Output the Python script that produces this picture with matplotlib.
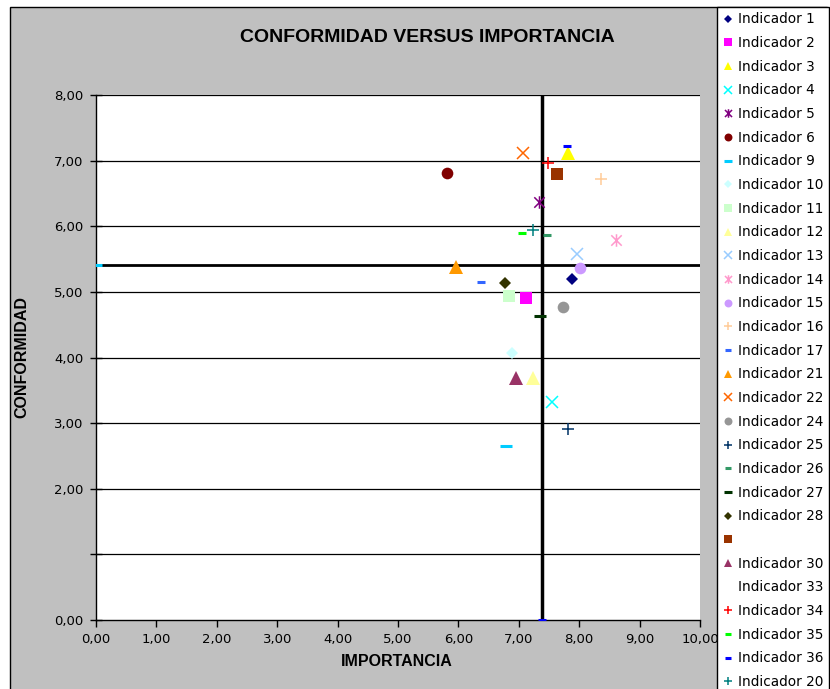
import matplotlib
matplotlib.use('Agg')
import matplotlib.pyplot as plt
from matplotlib.lines import Line2D
from matplotlib.patches import Rectangle
from matplotlib.path import Path

# Indicators: (importancia, conformidad)
labels = ['Indicador 1', 'Indicador 2', 'Indicador 3', 'Indicador 4',
          'Indicador 5', 'Indicador 6', 'Indicador 9', 'Indicador 10',
          'Indicador 11', 'Indicador 12', 'Indicador 13', 'Indicador 14',
          'Indicador 15', 'Indicador 16', 'Indicador 17', 'Indicador 21',
          'Indicador 22', 'Indicador 24', 'Indicador 25', 'Indicador 26',
          'Indicador 27', 'Indicador 28', '', 'Indicador 30',
          'Indicador 33', 'Indicador 34', 'Indicador 35', 'Indicador 36',
          'Indicador 20']
importancia = [7.88, 7.12, 7.81, 7.55, 7.33, 5.81, 6.79, 6.89,
               6.84, 7.24, 7.96, 8.61, 8.01, 8.36, 6.37, 5.96,
               7.07, 7.73, 7.81, 7.46, 7.35, 6.77, 7.63, 6.95,
               None, 7.48, 7.05, 7.80, 7.24]
conformidad = [5.20, 4.90, 7.12, 3.32, 6.37, 6.81, 2.65, 4.07,
               4.93, 3.69, 5.58, 5.79, 5.36, 6.72, 5.15, 5.38,
               7.12, 4.77, 2.91, 5.86, 4.63, 5.14, 6.80, 3.69,
               None, 6.96, 5.90, 7.22, 5.94]

# mean values drawn as the cross lines
mean_imp = 7.38
mean_conf = 5.41

xticks = list(range(0, 11))
xticklabels = ['0,00', '1,00', '2,00', '3,00', '4,00', '5,00',
               '6,00', '7,00', '8,00', '9,00', '10,00']
yticks = list(range(0, 9))
yticklabels = ['0,00', '', '2,00', '3,00', '4,00', '5,00',
               '6,00', '7,00', '8,00']

star = Path([(-1, -1), (1, 1), (-1, 1), (1, -1), (0, -1.2), (0, 1.2)],
            [Path.MOVETO, Path.LINETO, Path.MOVETO, Path.LINETO,
             Path.MOVETO, Path.LINETO])

# marker, colour, size, edge width
styles = [
    ('D', '#000080', 6.6, 0), ('s', '#FF00FF', 8.4, 0),
    ('^', '#FFFF00', 9.5, 0), ('x', '#00FFFF', 9.0, 1.1),
    (star, '#800080', 9.0, 1.1), ('o', '#800000', 8.4, 0),
    ('_', '#00CCFF', 9.0, 2.2), ('D', '#CCFFFF', 6.6, 0),
    ('s', '#CCFFCC', 8.4, 0), ('^', '#FFFF99', 9.5, 0),
    ('x', '#99CCFF', 9.0, 1.1), (star, '#FF99CC', 9.0, 1.1),
    ('o', '#CC99FF', 8.4, 0), ('+', '#FFCC99', 9.0, 1.1),
    ('_', '#3366FF', 6.0, 2.2), ('^', '#FF9900', 9.5, 0),
    ('x', '#FF6600', 9.0, 1.1), ('o', '#969696', 8.4, 0),
    ('+', '#003366', 9.0, 1.1), ('_', '#339966', 5.5, 2.2),
    ('_', '#003300', 9.0, 2.2), ('D', '#333300', 6.6, 0),
    ('s', '#993300', 8.4, 0), ('^', '#993366', 9.5, 0),
    ('None', 'none', 0, 0), ('+', '#FF0000', 9.0, 1.1),
    ('_', '#00FF00', 6.0, 2.2), ('_', '#0000FF', 6.0, 2.2),
    ('+', '#008080', 8.0, 1.1),
]

fs = 9.5
fig = plt.figure(figsize=(8.3, 6.89), dpi=100)
fig.patch.set_facecolor('white')
W, H = 830, 689

# grey chart area
fig.patches.append(Rectangle((10/W, -0.01), 817/W, 1.01 - 7/H,
                             transform=fig.transFigure, facecolor='#C0C0C0',
                             edgecolor='black', lw=1, zorder=-10))

ax = fig.add_axes([96/W, 69/H, 604/W, 525/H])
ax.set_facecolor('white')
ax.set_xlim(0, 10)
ax.set_ylim(0, 8)
for sp in ['top', 'right']:
    ax.spines[sp].set_visible(False)
for sp in ['left', 'bottom']:
    ax.spines[sp].set_color('black')
    ax.spines[sp].set_linewidth(1)
for yv in yticks[1:]:
    ax.axhline(yv, color='black', lw=0.9, zorder=1)

ax.axhline(mean_conf, color='black', lw=2.0, zorder=2)
ax.axvline(mean_imp, color='black', lw=2.5, zorder=2)
ax.plot([0], [mean_conf], marker='_', color='#00CCFF', ms=8, mew=2.2,
        ls='none', clip_on=True, zorder=3)
ax.plot([mean_imp], [0], marker='_', color='#0000FF', ms=6, mew=2.2,
        ls='none', clip_on=True, zorder=3)

handles = []
for i in range(len(labels)):
    m, c, s, ew = styles[i]
    filled = ew == 0
    if importancia[i] is not None:
        ax.plot([importancia[i]], [conformidad[i]], ls='none', marker=m,
                ms=s, color=c, mew=ew if not filled else 0, zorder=4)
    handles.append(Line2D([], [], ls='none', marker=m, color=c,
                          ms=s*0.68, mew=ew if not filled else 0))

ax.set_xticks(xticks)
ax.set_xticklabels(xticklabels)
ax.set_yticks(yticks)
ax.set_yticklabels(yticklabels)
ax.tick_params(axis='x', direction='out', length=5, width=1, pad=4,
               labelsize=fs)
ax.tick_params(axis='y', direction='inout', length=8, width=1, pad=5,
               labelsize=fs)

fig.text(427/W, 1 - 38/H, 'CONFORMIDAD VERSUS IMPORTANCIA',
         family='Liberation Sans', weight='bold', fontsize=14,
         ha='center', va='center')
fig.text(397/W, 1 - 662/H, 'IMPORTANCIA', family='Liberation Sans',
         weight='bold', fontsize=11.5, ha='center', va='center')
fig.text(22/W, 1 - 357/H, 'CONFORMIDAD', family='Liberation Sans',
         weight='bold', fontsize=11.5, ha='center', va='center', rotation=90)

leg = ax.legend(handles, labels, loc='upper left',
                bbox_to_anchor=(717/W, 1 - 7/H), bbox_transform=fig.transFigure,
                fontsize=9.8, frameon=True, fancybox=False, framealpha=1,
                edgecolor='black', facecolor='white', borderpad=0.4,
                handlelength=0.8, handletextpad=0.35, labelspacing=0.71,
                borderaxespad=0)
leg.get_frame().set_linewidth(1)

fig.savefig('out.png', dpi=100)
